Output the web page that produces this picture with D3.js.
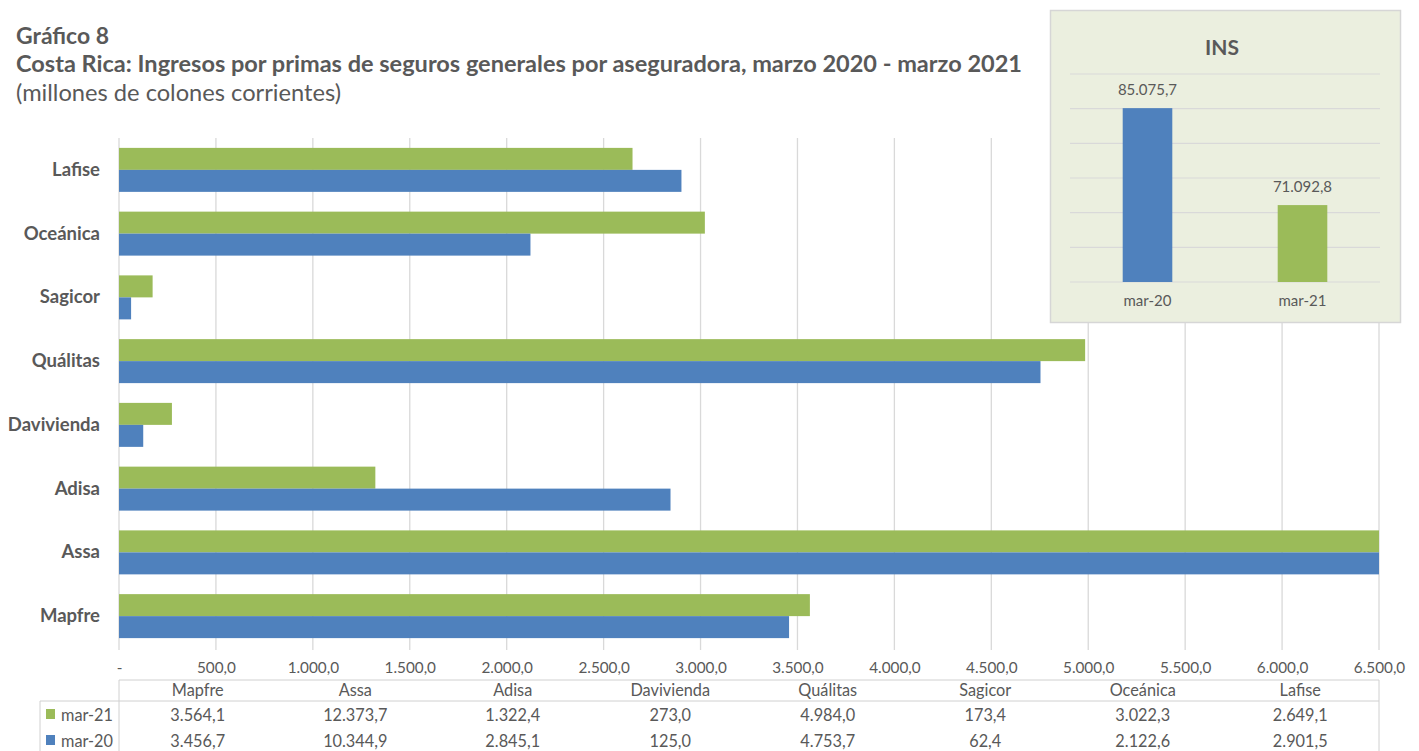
<!DOCTYPE html>
<html><head><meta charset="utf-8">
<script src="https://cdn.jsdelivr.net/npm/d3@7"></script>
<style>
body{margin:0;background:#fff;}
svg{display:block;font-family:Lato,"Open Sans",sans-serif;}
</style></head>
<body><svg id="c" width="1419" height="751"></svg>
<script>
// ---- data ----
const categories = ["Mapfre","Assa","Adisa","Davivienda","Quálitas","Sagicor","Oceánica","Lafise"];
const seriesNames = ["mar-21","mar-20"];
const mar21 = [3564.1, 12373.7, 1322.4, 273.0, 4984.0, 173.4, 3022.3, 2649.1];
const mar20 = [3456.7, 10344.9, 2845.1, 125.0, 4753.7, 62.4, 2122.6, 2901.5];
const xTicks = [0,500,1000,1500,2000,2500,3000,3500,4000,4500,5000,5500,6000,6500];
const insCategories = ["mar-20","mar-21"];
const insValues = [85075.7, 71092.8];
const insTicks = [60000,65000,70000,75000,80000,85000,90000];

const colors = {"mar-21":"#9bbb59","mar-20":"#4f81bd"};
const txt = "#595959", grid = "#d9d9d9";
const loc = d3.formatLocale({decimal:",", thousands:".", grouping:[3], currency:["",""]});
const fmt = loc.format(",.1f");

const svg = d3.select("#c");

// titles
svg.append("text").attr("x",16).attr("y",44).attr("font-size",22.5).attr("font-weight","bold").attr("fill",txt)
  .attr("textLength",93).attr("lengthAdjust","spacingAndGlyphs").text("Gráfico 8");
svg.append("text").attr("x",16).attr("y",72).attr("font-size",22.5).attr("font-weight","bold").attr("fill",txt)
  .attr("textLength",1006).attr("lengthAdjust","spacingAndGlyphs").text("Costa Rica: Ingresos por primas de seguros generales por aseguradora, marzo 2020 - marzo 2021");
svg.append("text").attr("x",16).attr("y",101).attr("font-size",22.5).attr("fill",txt)
  .attr("textLength",325).attr("lengthAdjust","spacingAndGlyphs").text("(millones de colones corrientes)");

// main chart
const pLeft = 119, pRight = 1379, pTop = 138, pBottom = 648;
const x = d3.scaleLinear().domain([0,6500]).range([pLeft,pRight]).clamp(true);
const y = d3.scaleBand().domain(categories.slice().reverse()).range([pTop,pBottom]).paddingInner(0.31).paddingOuter(0.155);
const ySub = d3.scaleBand().domain(seriesNames).range([0,y.bandwidth()]);

const g = svg.append("g");
g.selectAll("line.grid").data(xTicks).join("line").attr("class","grid")
  .attr("x1",d=>x(d)).attr("x2",d=>x(d)).attr("y1",pTop).attr("y2",pBottom+2)
  .attr("stroke",grid).attr("stroke-width",1.3);

const series = [{name:"mar-21",values:mar21},{name:"mar-20",values:mar20}];
series.forEach(s=>{
  g.selectAll(null).data(categories.map((c,i)=>({c,v:s.values[i]}))).join("rect")
    .attr("x",x(0)).attr("y",d=>y(d.c)+ySub(s.name))
    .attr("width",d=>x(d.v)-x(0)).attr("height",ySub.bandwidth())
    .attr("fill",colors[s.name]);
});

// category labels
const yAxis = d3.axisLeft(y).tickSize(0).tickPadding(19);
const ya = svg.append("g").attr("transform",`translate(${pLeft},0)`).call(yAxis);
ya.select(".domain").remove();
ya.selectAll("text").attr("font-size",18.5).attr("font-weight","bold").attr("fill",txt).attr("font-family","Lato,'Open Sans',sans-serif");

// x tick labels
const xAxis = d3.axisBottom(x).tickValues(xTicks).tickSize(0).tickPadding(0).tickFormat(d=>d===0?"-":fmt(d));
const xa = svg.append("g").attr("transform",`translate(0,662)`).call(xAxis);
xa.select(".domain").remove();
xa.selectAll("text").attr("font-size",15.3).attr("fill",txt).attr("font-family","Lato,'Open Sans',sans-serif");

// data table
const colW = (pRight-pLeft)/categories.length;
const tbl = svg.append("g");
const lineC = "#d0d0d0";
tbl.append("line").attr("x1",pLeft).attr("x2",pRight).attr("y1",680).attr("y2",680).attr("stroke",lineC);
tbl.append("line").attr("x1",40).attr("x2",pRight).attr("y1",701).attr("y2",701).attr("stroke",lineC);
tbl.append("line").attr("x1",pLeft).attr("x2",pLeft).attr("y1",680).attr("y2",751).attr("stroke",lineC);
tbl.append("line").attr("x1",pRight).attr("x2",pRight).attr("y1",680).attr("y2",751).attr("stroke",lineC);
tbl.append("line").attr("x1",40).attr("x2",40).attr("y1",701).attr("y2",751).attr("stroke",lineC);
const tfs = 16.3;
tbl.selectAll("text.h").data(categories).join("text").attr("class","h")
  .attr("x",(d,i)=>pLeft+colW*(i+0.5)).attr("y",696).attr("text-anchor","middle")
  .attr("font-size",tfs).attr("fill",txt).text(d=>d);
const rowsY = {"mar-21":721,"mar-20":747};
series.forEach(s=>{
  tbl.selectAll(null).data(s.values).join("text")
    .attr("x",(d,i)=>pLeft+colW*(i+0.5)).attr("y",rowsY[s.name]).attr("text-anchor","middle")
    .attr("font-size",tfs).attr("fill",txt).text(d=>fmt(d));
  tbl.append("rect").attr("x",46).attr("y",rowsY[s.name]-12).attr("width",9).attr("height",10).attr("fill",colors[s.name]);
  tbl.append("text").attr("x",61).attr("y",rowsY[s.name]).attr("font-size",tfs).attr("fill",txt).text(s.name);
});

// inset INS chart
const ins = svg.append("g");
ins.append("rect").attr("x",1050.5).attr("y",10.5).attr("width",350).attr("height",312)
  .attr("fill","#ebefdf").attr("stroke","#d6d6d6").attr("stroke-width",1.5);
ins.append("text").attr("x",1222).attr("y",55).attr("text-anchor","middle").attr("font-size",21)
  .attr("font-weight","bold").attr("fill",txt).text("INS");
const iy = d3.scaleLinear().domain([60000,90000]).range([282,74]);
const ix = d3.scaleBand().domain(insCategories).range([1070,1380]).paddingInner(0.68).paddingOuter(0.34);
ins.selectAll("line").data(insTicks).join("line").attr("x1",1070).attr("x2",1380)
  .attr("y1",d=>iy(d)).attr("y2",d=>iy(d)).attr("stroke",grid).attr("stroke-width",1.2);
const insColors = ["#4f81bd","#9bbb59"];
ins.selectAll("rect.b").data(insValues).join("rect").attr("class","b")
  .attr("x",(d,i)=>ix(insCategories[i])).attr("y",d=>iy(d))
  .attr("width",ix.bandwidth()).attr("height",d=>iy(60000)-iy(d)).attr("fill",(d,i)=>insColors[i]);
ins.selectAll("text.v").data(insValues).join("text").attr("class","v")
  .attr("x",(d,i)=>ix(insCategories[i])+ix.bandwidth()/2).attr("y",d=>iy(d)-13)
  .attr("text-anchor","middle").attr("font-size",15).attr("fill",txt).text(d=>fmt(d));
ins.selectAll("text.c").data(insCategories).join("text").attr("class","c")
  .attr("x",d=>ix(d)+ix.bandwidth()/2).attr("y",306)
  .attr("text-anchor","middle").attr("font-size",15).attr("fill",txt).text(d=>d);
</script></body></html>
